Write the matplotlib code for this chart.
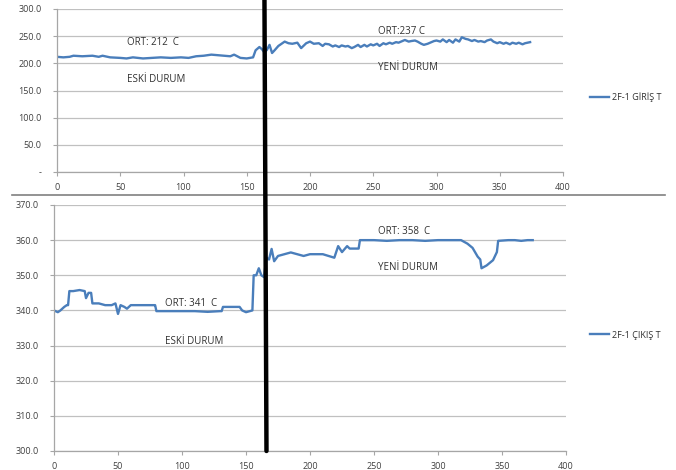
import numpy as np
import matplotlib
matplotlib.use("Agg")
import matplotlib.pyplot as plt
from matplotlib.patches import ConnectionPatch
from matplotlib.lines import Line2D

plt.rcParams['font.family'] = ['Open Sans', 'DejaVu Sans']

# 2F-1 GIRIS T (top)
x_giris = [0, 5, 10, 13, 20, 28, 33, 36, 42, 50, 55, 60, 68, 75, 82, 90, 98, 104, 110, 116, 122,
           127, 132, 137, 140, 145, 150, 155, 157, 160, 162, 164, 166, 168, 170, 172, 175, 180,
           183, 186, 190, 193, 197, 200, 203, 207, 210,
           212, 215, 218, 220, 223, 225, 228, 230, 233, 235, 238, 240, 243, 245, 248, 250,
           253, 255, 258, 260, 263, 265, 268, 270, 273, 275, 278, 280, 283, 285,
           288, 290, 293, 295, 298, 300, 303, 305, 308, 310, 313, 315, 318, 320, 323, 325,
           328, 330, 333, 335, 338, 340, 343, 345, 348, 350, 353, 355, 358, 360, 363, 365,
           368, 370, 374]
y_giris = [212, 211, 212, 214, 213, 214, 212, 214, 211, 210, 209, 211, 209, 210, 211, 210, 211, 210,
           213, 214, 216, 215, 214, 213, 216, 210, 209, 211, 224, 230, 226, 220, 225, 234, 219, 224,
           232, 240, 237, 236, 238, 228, 237, 240, 236, 237, 232,
           236, 235, 231, 233, 230, 233, 231, 232, 228, 230, 234, 230, 234, 231, 235, 233,
           236, 232, 237, 235, 238, 236, 239, 238, 241, 243, 240, 241, 242, 240,
           236, 234, 236, 238, 241, 242, 240, 244, 239, 243, 238, 244, 240, 248, 245, 244,
           241, 243, 240, 241, 239, 242, 244, 240, 237, 239, 236, 238, 235, 238, 236, 238,
           235, 237, 239]

# 2F-1 CIKIS T (bottom)
x_cikis = [0, 3, 5, 8, 10, 11, 12, 15, 20, 24, 25, 27, 29, 30, 35, 40, 45, 48, 50, 52, 55, 57, 60,
           70, 78, 79, 80, 90, 100, 110, 120, 130, 131, 132, 140, 145, 147, 150, 155, 156, 158,
           160, 162, 164, 166, 168, 170, 172, 175, 180, 185, 190, 195, 200, 210, 219, 222, 225,
           229, 231, 238, 239, 250, 260, 270, 280, 290, 300, 310, 318, 323, 327, 331, 333, 334,
           338, 343, 346, 347, 355, 360, 365, 370, 374]
y_cikis = [340, 339.5, 340, 341, 341.5, 341.5, 345.5, 345.5, 345.8, 345.5, 343.5, 345, 345, 342, 342,
           341.5, 341.5, 342, 339, 341.5, 341, 340.5, 341.5, 341.5, 341.5, 341.5, 339.8, 339.8,
           339.8, 339.8, 339.6, 339.8, 339.8, 341, 341, 341, 340, 339.5, 340, 350, 350, 352,
           350, 349.5, 355, 354.5, 357.5, 354, 355.5, 356, 356.5, 356, 355.5, 356, 356, 355,
           358.3, 356.6, 358.3, 357.6, 357.6, 360, 360, 359.8, 360, 360, 359.8, 360, 360, 360,
           359, 357.8, 355.3, 354.5, 352, 352.8, 354.3, 356.6, 359.8, 360, 360, 359.8, 360, 360]

line_color = '#4a7ebb'
grid_color = '#c0c0c0'
tick_color = '#404040'

fig = plt.figure(figsize=(6.76, 4.70), dpi=100)
ax1 = fig.add_axes([57/676, 1-172/470, 506/676, 163/470])
ax2 = fig.add_axes([54/676, 1-451/470, 512/676, 246/470])

def style(ax, yticks, ylabels, ylim):
    ax.set_xlim(0, 400)
    ax.set_ylim(*ylim)
    ax.set_xticks(range(0, 401, 50))
    ax.set_yticks(yticks)
    ax.set_yticklabels(ylabels)
    ax.grid(axis='y', color=grid_color, lw=0.9)
    ax.set_axisbelow(True)
    for s in ['top', 'right']:
        ax.spines[s].set_visible(False)
    for s in ['left', 'bottom']:
        ax.spines[s].set_color('#a6a6a6')
        ax.spines[s].set_linewidth(0.9)
    ax.tick_params(axis='both', labelsize=6.5, colors='#a6a6a6', labelcolor=tick_color,
                   length=3, width=0.8)
    ax.tick_params(axis='y', pad=8)
    ax.tick_params(axis='x', pad=5)

style(ax1, range(0, 301, 50), ['-'] + ['%.1f' % v for v in range(50, 301, 50)], (0, 300))
style(ax2, range(300, 371, 10), ['%.1f' % v for v in range(300, 371, 10)], (300, 370))

ax1.plot(x_giris, y_giris, color=line_color, lw=1.7, label='2F-1 GİRİŞ T')
ax2.plot(x_cikis, y_cikis, color=line_color, lw=1.7, label='2F-1 ÇIKIŞ T')

txt = dict(fontsize=7, color='#303030', va='center', ha='left')
ax1.text(55, 239, 'ORT: 212  C', **txt)
ax1.text(55, 170, 'ESKİ DURUM', **txt)
ax1.text(254, 259, 'ORT:237 C', **txt)
ax1.text(254, 193, 'YENİ DURUM', **txt)
ax2.text(87, 342, 'ORT: 341  C', **txt)
ax2.text(87, 331.3, 'ESKİ DURUM', **txt)
ax2.text(253, 362.6, 'ORT: 358  C', **txt)
ax2.text(253, 352.3, 'YENİ DURUM', **txt)

leg_kw = dict(frameon=False, fontsize=6.5, handlelength=2.2, handletextpad=0.3,
              loc='center left', borderaxespad=0)
l1 = ax1.legend(bbox_to_anchor=(586/676, 1-97/470), bbox_transform=fig.transFigure, **leg_kw)
l2 = ax2.legend(bbox_to_anchor=(586/676, 1-335/470), bbox_transform=fig.transFigure, **leg_kw)
for leg in (l1, l2):
    for t in leg.get_texts():
        t.set_color('#303030')

# separator between panels
fig.add_artist(Line2D([12/676, 665/676], [1-194.5/470, 1-194.5/470], color='#808080', lw=1.2))

# vertical marker across both panels
con = ConnectionPatch(xyA=(164, 317), coordsA=ax1.transData,
                      xyB=(166, 300), coordsB=ax2.transData,
                      color='black', lw=3.2, zorder=10)
fig.add_artist(con)

fig.savefig('out.png', dpi=100)
